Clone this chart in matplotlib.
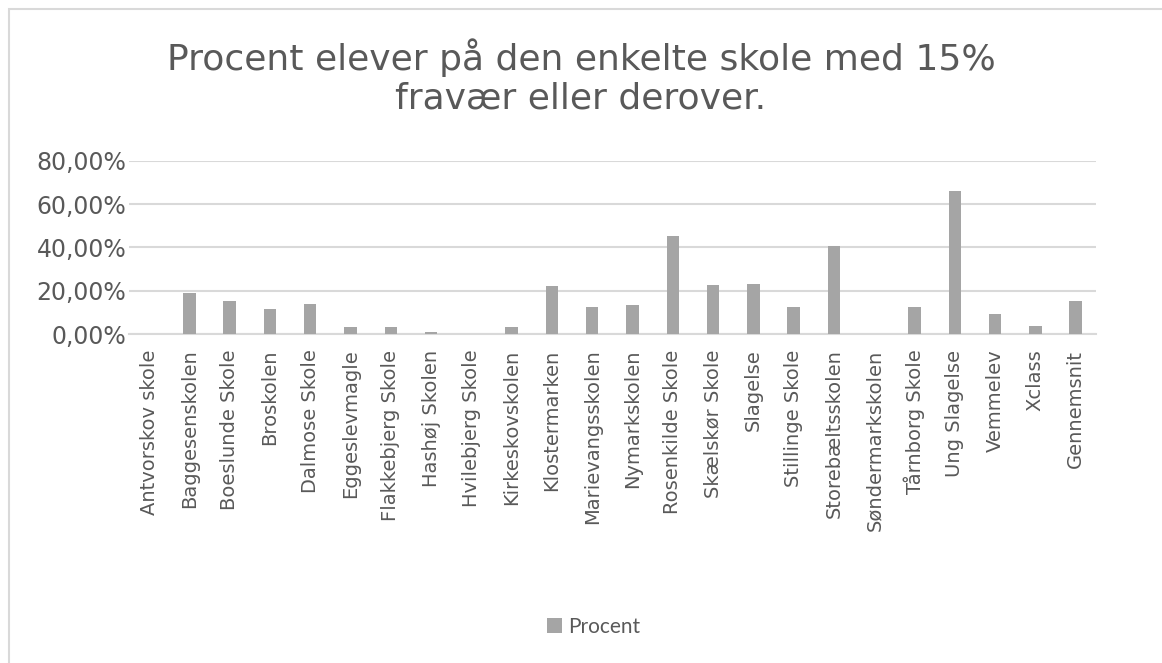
import matplotlib.pyplot as plt
import matplotlib.patches as patches
from matplotlib.ticker import FuncFormatter

#---------DATA----------
skoler = ["Antvorskov skole", "Baggesenskolen", "Boeslunde Skole", "Broskolen",
          "Dalmose Skole", "Eggeslevmagle", "Flakkebjerg Skole", "Hashøj Skolen",
          "Hvilebjerg Skole", "Kirkeskovskolen", "Klostermarken", "Marievangsskolen",
          "Nymarkskolen", "Rosenkilde Skole", "Skælskør Skole", "Slagelse",
          "Stillinge Skole", "Storebæltsskolen", "Søndermarkskolen", "Tårnborg Skole",
          "Ung Slagelse", "Vemmelev", "Xclass", "Gennemsnit"]
procent = [0.0, 18.9, 15.5, 11.7, 14.1, 3.4, 3.4, 1.2, 0.0, 3.4, 22.3, 12.4,
           13.5, 45.3, 22.9, 23.0, 12.6, 40.6, 0.0, 12.6, 66.1, 9.2, 3.8, 15.4]
y_ticks = [0, 20, 40, 60, 80]

tekst = "#595959"

#---------PLOT----------
fig = plt.figure(figsize=(11.62, 6.63), dpi=100)
ax = fig.add_axes([0.111, 0.4958, 0.832, 0.2618])

x = range(len(skoler))
ax.bar(x, procent, width=0.31, color="#A5A5A5", label="Procent", zorder=3)

ax.set_ylim(0, 80)
ax.set_xlim(-0.5, len(skoler) - 0.5)
ax.set_yticks(y_ticks)
ax.yaxis.set_major_formatter(FuncFormatter(lambda v, p: f"{v:.2f}%".replace(".", ",")))
ax.grid(axis="y", color="#D9D9D9", linewidth=1.5, zorder=0)
for s in ["top", "right", "left"]:
    ax.spines[s].set_visible(False)
ax.spines["bottom"].set_color("#D9D9D9")
ax.spines["bottom"].set_linewidth(1.5)

ax.set_xticks(list(x))
ax.set_xticklabels(skoler, rotation=90, fontsize=14, color=tekst)
ax.tick_params(axis="x", length=0, pad=11)
ax.tick_params(axis="y", length=0, pad=2, labelsize=17, labelcolor=tekst)

fig.text(0.5, 0.884, "Procent elever på den enkelte skole med 15%\nfravær eller derover.",
         ha="center", va="center", fontsize=26, color=tekst, linespacing=1.2)

fig.legend(loc="center", bbox_to_anchor=(0.511, 0.055), frameon=False,
           prop={"family": "Lato", "size": 15}, labelcolor=tekst,
           handlelength=0.7, handleheight=0.7, handletextpad=0.3)

# ramme om diagrammet (kun top og venstre synlige)
fig.patches.append(patches.Rectangle((9 / 1162, -0.1), 1.2, (663 - 9) / 663 + 0.1,
                                     transform=fig.transFigure, fill=False,
                                     edgecolor="#D9D9D9", linewidth=1.5))

fig.savefig("out.png", dpi=100)
